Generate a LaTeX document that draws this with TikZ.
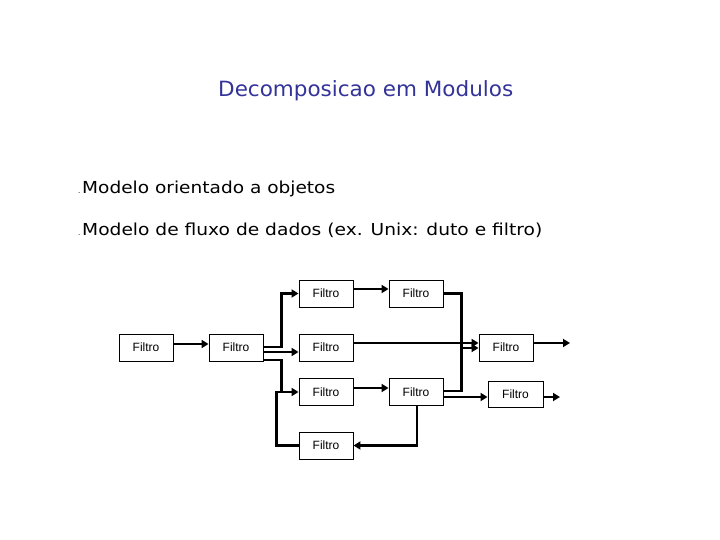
\documentclass[tikz,border=0pt]{standalone}
\usepackage{fontspec}
\setmainfont{Liberation Sans}
\newfontfamily\comicfont{DejaVu Sans}
\usetikzlibrary{arrows.meta}
\definecolor{titleblue}{RGB}{51,51,153}
\tikzset{
  filt/.style={draw, line width=0.9pt, minimum width=54pt, minimum height=27pt, inner sep=0pt, font=\fontsize{12}{14}\selectfont},
  conn/.style={line width=2.8pt, -{Triangle[length=7pt,width=8pt]}},
  plain/.style={line width=2.8pt},
  txt/.style={anchor=base west, inner sep=0pt}
}
\begin{document}
\begin{tikzpicture}[x=1pt,y=-1pt]
\useasboundingbox[fill=white] (0,0) rectangle (720,540);
% title
\node[txt, text=titleblue] (title) at (218,97) {\resizebox{295pt}{\height}{\comicfont\fontsize{21}{24}\selectfont Decomposicao em Modulos}};
% bullets
\node[txt] (d1) at (78,194) {\fontsize{8}{9}\selectfont .};
\node[txt] (l1) at (82,194) {\resizebox{253pt}{\height}{\comicfont\fontsize{16.5}{20}\selectfont Modelo orientado a objetos}};
\node[txt] (d2) at (78,236) {\fontsize{8}{9}\selectfont .};
\node[txt] (l2) at (82,236) {\resizebox{460pt}{\height}{\comicfont\fontsize{16.5}{20}\selectfont Modelo de fluxo de dados (ex. Unix: duto e filtro)}};
% boxes
\node[filt] (A) at (146,347.5) {Filtro};
\node[filt] (B) at (236,347.5) {Filtro};
\node[filt] (C) at (326,293.5) {Filtro};
\node[filt] (D) at (416,293.5) {Filtro};
\node[filt] (E) at (326,347.5) {Filtro};
\node[filt] (F) at (506,347.5) {Filtro};
\node[filt] (G) at (326,392) {Filtro};
\node[filt] (H) at (416,392) {Filtro};
\node[filt, minimum width=55pt, minimum height=26pt] (I) at (515.5,394) {Filtro};
\node[filt] (J) at (326,445.5) {Filtro};
\coordinate (fout) at (570,343);
\coordinate (iout) at (560,397);
% connectors
\draw[conn] ([yshift=3.5pt]A.east) -- ([yshift=3.5pt]B.west);
\draw[conn] ([yshift=0.5pt]B.east) -| ([xshift=-17pt]C.west) -- (C.west);
\draw[conn] ([yshift=-4.5pt]B.east) -- ([yshift=-4.5pt]E.west);
\draw[conn] ([yshift=-12.5pt]B.east) -| ([xshift=-17pt]G.west) -- (G.west);
\draw[plain] (J.west) -| ([xshift=-22pt]G.west) -- ([xshift=-17pt]G.west);
\draw[conn] ([yshift=4.5pt]C.east) -- ([yshift=4.5pt]D.west);
\draw[conn] (D.east) -| ([xshift=-17pt,yshift=-0.5pt]F.west) -- ([yshift=-0.5pt]F.west);
\draw[conn] ([yshift=4.5pt]E.east) -- ([yshift=4.5pt]F.west);
\draw[plain] ([yshift=1pt]H.east) -| ([xshift=-17pt,yshift=-0.5pt]F.west);
\draw[conn] ([yshift=-5pt]H.east) -- ([yshift=-3pt]I.west);
\draw[conn] ([yshift=4pt]G.east) -- ([yshift=4pt]H.west);
\draw[conn] ([xshift=1pt]H.south) |- (J.east);
\draw[conn] ([yshift=4.5pt]F.east) -- (fout);
\draw[conn] ([yshift=-3pt]I.east) -- (iout);
\end{tikzpicture}
\end{document}
